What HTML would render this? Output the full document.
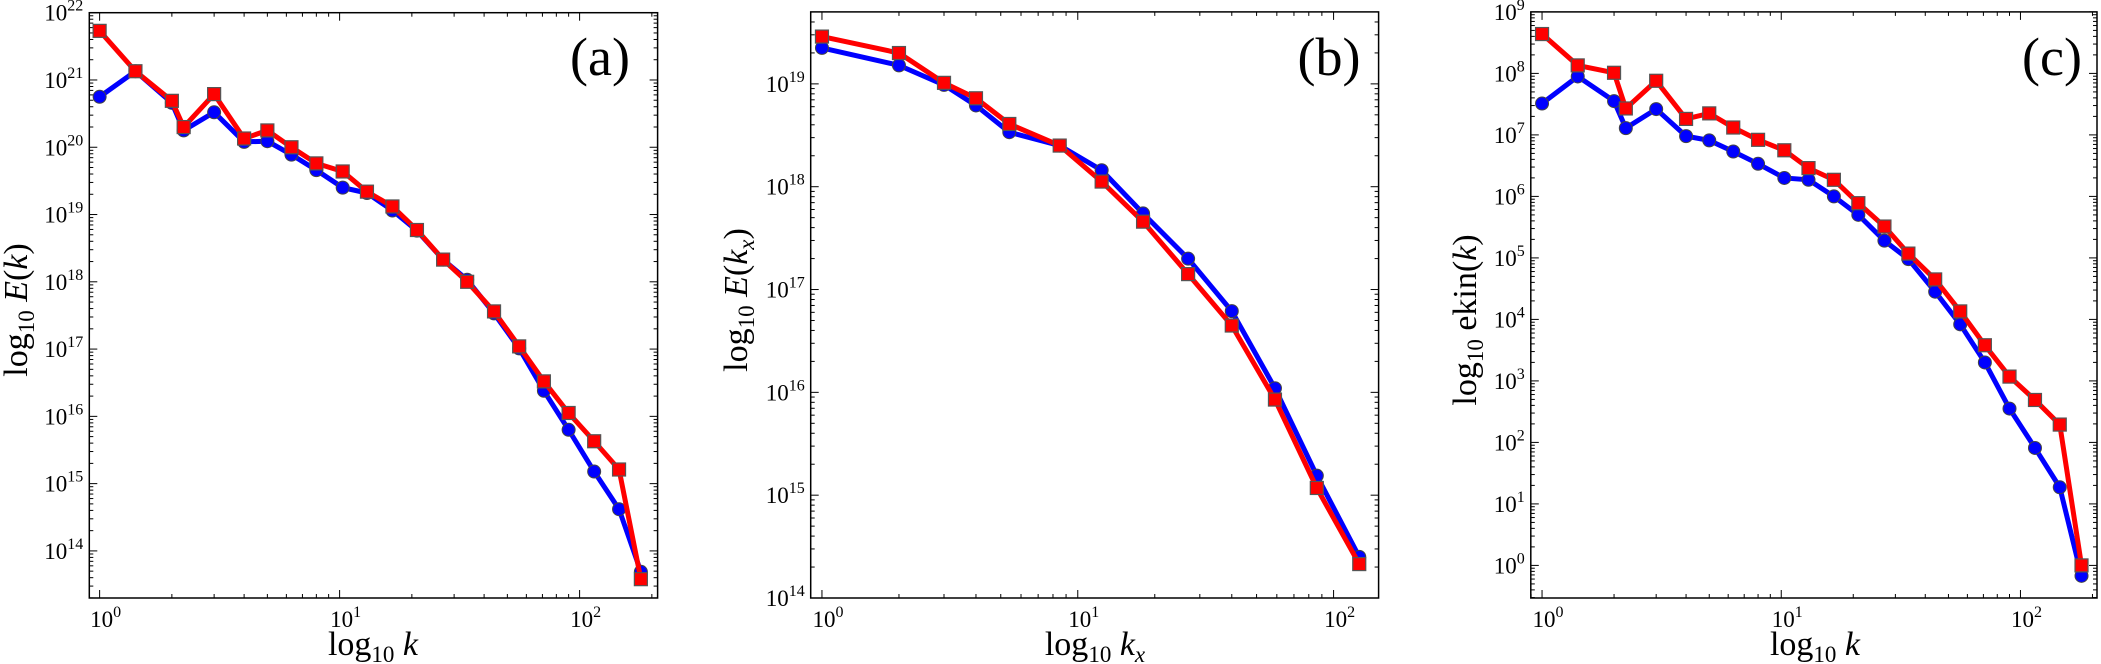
<!DOCTYPE html>
<html><head><meta charset="utf-8"><style>
html,body{margin:0;padding:0;background:#fff;}
svg{display:block;font-family:"Liberation Serif","DejaVu Serif",serif;}
</style></head><body>
<svg id="fig" width="2101" height="664" viewBox="0 0 2101 664" xmlns="http://www.w3.org/2000/svg"></svg>
<script>
// ---- data ----
const kA = [1,1.41,2,2.24,3,4,5,6.3,8,10.3,13,16.6,21,27,34,44,56,71,90,115,146,180];
const aRedLog = [21.73,21.13,20.69,20.30,20.79,20.13,20.25,20.0,19.76,19.64,19.34,19.12,18.77,18.33,18.0,17.56,17.04,16.52,16.05,15.63,15.21,13.58];
const aBlueLog = [20.75,21.13,20.66,20.25,20.52,20.08,20.09,19.89,19.66,19.40,19.32,19.06,18.76,18.33,18.03,17.53,17.01,16.38,15.80,15.18,14.62,13.69];
const kB = [1,2,3,4,5.4,8.5,12.4,18,27,40,59,86,126];
const bRedLog = [19.46,19.30,19.01,18.86,18.61,18.40,18.05,17.66,17.15,16.65,15.93,15.07,14.33];
const bBlueLog = [19.35,19.18,18.99,18.79,18.53,18.40,18.16,17.74,17.30,16.79,16.04,15.19,14.40];
const cRedLog = [8.64,8.13,8.01,7.43,7.88,7.26,7.35,7.12,6.92,6.75,6.46,6.27,5.89,5.51,5.07,4.65,4.13,3.58,3.07,2.69,2.29,0.0];
const cBlueLog = [7.51,7.95,7.55,7.11,7.42,6.98,6.91,6.73,6.53,6.30,6.27,6.00,5.70,5.28,4.98,4.45,3.92,3.30,2.55,1.91,1.27,-0.17];
const aYTicks = [14,15,16,17,18,19,20,21,22];
const bYTicks = [14,15,16,17,18,19];
const cYTicks = [0,1,2,3,4,5,6,7,8,9];
const xTicks = [0,1,2];

const NS="http://www.w3.org/2000/svg";
const svg=document.getElementById('fig');
function el(tag,attrs,parent){const e=document.createElementNS(NS,tag);for(const k in attrs)e.setAttribute(k,attrs[k]);(parent||svg).appendChild(e);return e;}

function panel(cfg){
  const g=el('g',{});
  
  
  const L=cfg.box[0],R=cfg.box[1],T=cfg.box[2],B=cfg.box[3];
  const xs=v=>L+(Math.log10(v)-cfg.xr[0])/(cfg.xr[1]-cfg.xr[0])*(R-L);
  const ys=lv=>B-(lv-cfg.yr[0])/(cfg.yr[1]-cfg.yr[0])*(B-T);
  const ax=el('g',{},g);
  
  
  for(let d=Math.floor(cfg.xr[0]);d<=Math.ceil(cfg.xr[1]);d++){
    for(let m=1;m<10;m++){
      const lv=d+Math.log10(m);
      if(lv<cfg.xr[0]||lv>cfg.xr[1])continue;
      const x=xs(Math.pow(10,lv));const len=m===1?8:4;
      el('line',{x1:x,x2:x,y1:B,y2:B-len,stroke:'#000','stroke-width':1},ax);
      el('line',{x1:x,x2:x,y1:T,y2:T+len,stroke:'#000','stroke-width':1},ax);
    }
  }
  xTicks.forEach(d=>{
    if(d<cfg.xr[0]||d>cfg.xr[1])return;
    const t=el('text',{x:xs(Math.pow(10,d))+6,y:B+29,'font-size':23,'text-anchor':'middle'},g);
    
    
    t.innerHTML='10<tspan dy="-10" font-size="16">'+d+'</tspan>';
  });
  for(let d=Math.floor(cfg.yr[0]);d<=Math.ceil(cfg.yr[1]);d++){
    for(let m=1;m<10;m++){
      const lv=d+Math.log10(m);
      if(lv<cfg.yr[0]||lv>cfg.yr[1])continue;
      const y=ys(lv);const len=m===1?8:4;
      el('line',{x1:L,x2:L+len,y1:y,y2:y,stroke:'#000','stroke-width':1},ax);
      el('line',{x1:R,x2:R-len,y1:y,y2:y,stroke:'#000','stroke-width':1},ax);
    }
  }
  cfg.yTicks.forEach(d=>{
    const t=el('text',{x:L-6,y:ys(d)+8,'font-size':23,'text-anchor':'end'},g);
    
    
    t.innerHTML='10<tspan dy="-10" font-size="16">'+d+'</tspan>';
  });
  function series(ks,vals,color,shape,nm){
    const sg=el('g',{},g);
    
    
    const pts=ks.map((k,i)=>xs(k)+','+ys(vals[i])).join(' ');
    el('polyline',{points:pts,fill:'none',stroke:color,'stroke-width':5,'stroke-linejoin':'miter'},sg);
    ks.forEach((k,i)=>{
      const x=xs(k),y=ys(vals[i]);
      let m;
      if(shape==='c') m=el('circle',{cx:x,cy:y,r:6.5,fill:color,stroke:'#444','stroke-width':1},sg);
      else m=el('rect',{x:x-6.5,y:y-6.5,width:13,height:13,fill:color,stroke:'#555','stroke-width':1.2},sg);
      
      
    });
  }
  series(cfg.k,cfg.blue,'#0000ff','c','blue-series');
  series(cfg.k,cfg.red,'#ff0000','s','red-series');
  const fr=el('rect',{x:L,y:T,width:R-L,height:B-T,fill:'none',stroke:'#000','stroke-width':1.5},g);
  
  
  const xl=el('text',{x:cfg.xlab[0],y:655,'font-size':34,'text-anchor':'middle'},g);
  
  
  xl.innerHTML='log<tspan dy="7" font-size="23">10</tspan><tspan dy="-7" font-style="italic"> '+cfg.xlab[1]+'</tspan>';
  const yl=el('text',{x:0,y:0,'font-size':34,'text-anchor':'middle',transform:'translate('+(cfg.ylab[0]+11)+','+cfg.ylab[1]+') rotate(-90)'},g);
  
  
  yl.innerHTML=cfg.ylab[2];
  const pl=el('text',{x:cfg.plab[0],y:75,'font-size':54,'text-anchor':'middle'},g);
  
  
  pl.textContent=cfg.plab[1];
}

panel({name:'panel-a',box:[89.3,657.6,12.7,598],xr:[-0.043,2.325],yr:[13.3,22],yTicks:aYTicks,k:kA,red:aRedLog,blue:aBlueLog,
  xlab:[373,'k'],ylab:[16,310,'log<tspan dy="7" font-size="23">10</tspan><tspan dy="-7" font-style="italic"> E</tspan>(<tspan font-style="italic">k</tspan>)'],plab:[600,'(a)']});
panel({name:'panel-b',box:[810.7,1378.6,11.9,598],xr:[-0.044,2.176],yr:[14,19.70],yTicks:bYTicks,k:kB,red:bRedLog,blue:bBlueLog,
  xlab:[1095,'k<tspan dy="7" font-size="23">x</tspan>'],ylab:[736,300,'log<tspan dy="7" font-size="23">10</tspan><tspan dy="-7" font-style="italic"> E</tspan>(<tspan font-style="italic">k</tspan><tspan dy="7" font-size="23" font-style="italic">x</tspan><tspan dy="-7">)</tspan>'],plab:[1329,'(b)']});
panel({name:'panel-c',box:[1530.8,2097,11.9,598],xr:[-0.047,2.32],yr:[-0.53,9],yTicks:cYTicks,k:kA,red:cRedLog,blue:cBlueLog,
  xlab:[1815,'k'],ylab:[1465,320,'log<tspan dy="7" font-size="23">10</tspan><tspan dy="-7">  ekin(</tspan><tspan font-style="italic">k</tspan>)'],plab:[2052,'(c)']});
</script>
</body></html>
